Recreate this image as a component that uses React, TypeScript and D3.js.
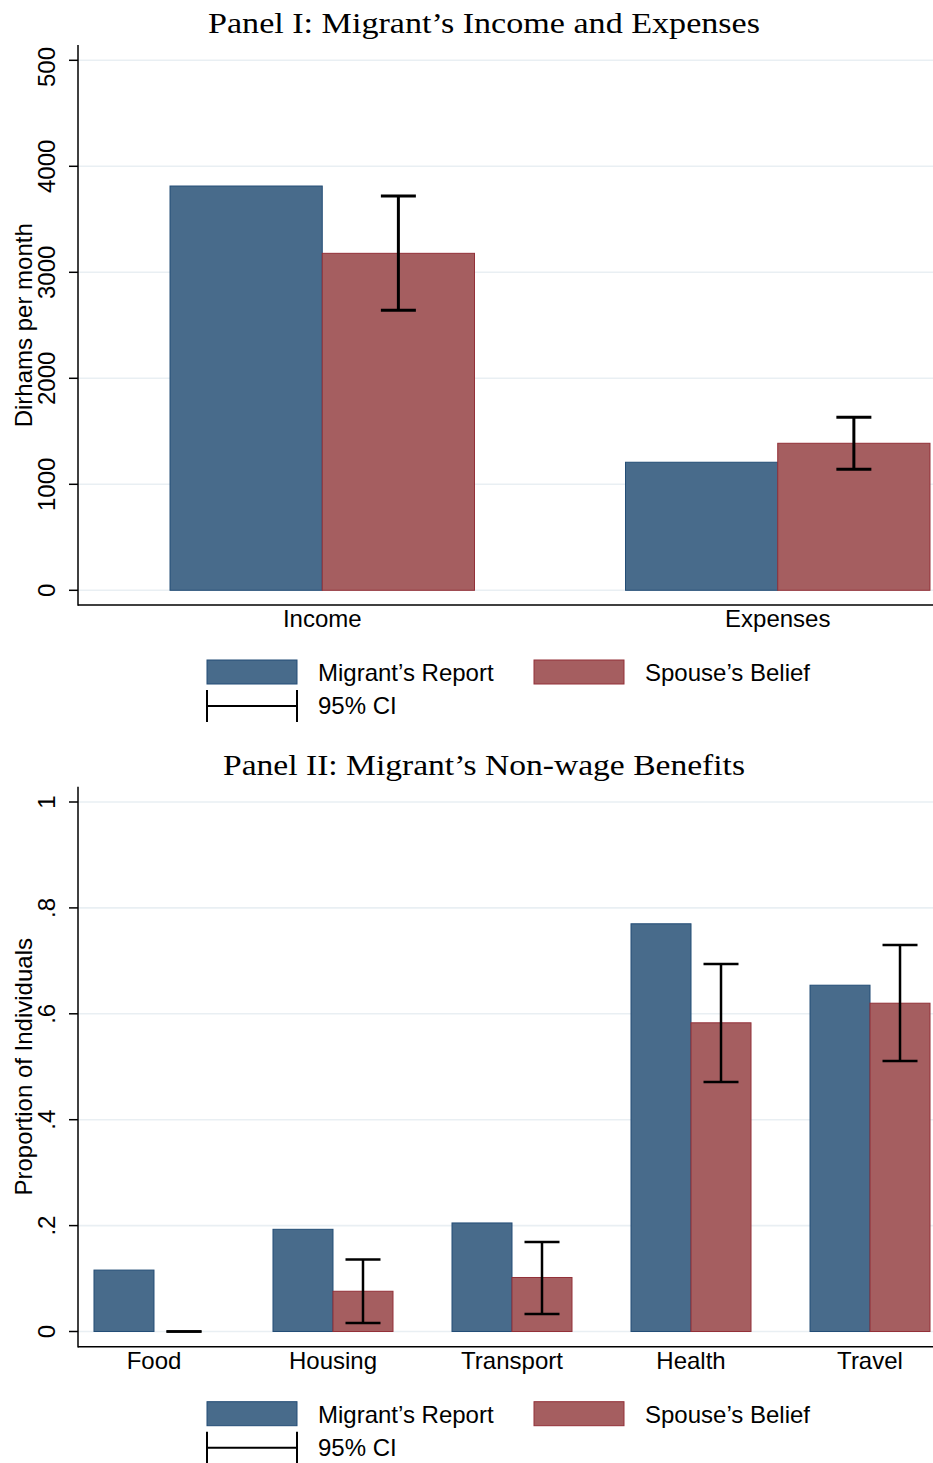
import React from "react";
import * as d3 from "d3";

// ---------- Data ----------
const incomeCats = ["Income", "Expenses"];
const incomeMigrant = [3814, 1208];
const incomeSpouse = [3179, 1387];
const incomeSpouseLo = [2641, 1142];
const incomeSpouseHi = [3720, 1632];
const incomeTicks = [0, 1000, 2000, 3000, 4000, 5000];
const incomeTickLabels = ["0", "1000", "2000", "3000", "4000", "5000"];

const benefitCats = ["Food", "Housing", "Transport", "Health", "Travel"];
const benefitMigrant = [0.116, 0.193, 0.205, 0.77, 0.654];
const benefitSpouse = [0, 0.076, 0.102, 0.583, 0.62];
const benefitSpouseLo = [0, 0.016, 0.033, 0.471, 0.511];
const benefitSpouseHi = [0, 0.136, 0.169, 0.694, 0.73];
const benefitTicks = [0, 0.2, 0.4, 0.6, 0.8, 1];
const benefitTickLabels = ["0", ".2", ".4", ".6", ".8", "1"];

const seriesNames = ["Migrant\u2019s Report", "Spouse\u2019s Belief"];
const ciLabel = "95% CI";
const titles = [
  "Panel I: Migrant\u2019s Income and Expenses",
  "Panel II: Migrant\u2019s Non-wage Benefits",
];

// ---------- Styles ----------
const BLUE = "#486b8b";
const BLUE_EDGE = "#234d76";
const RED = "#a55e60";
const RED_EDGE = "#933038";
const GRID = "#e9eff3";
const SANS = "'Liberation Sans', Arial, Helvetica, sans-serif";
const SERIF = "'Liberation Serif', 'Times New Roman', serif";
const FS = 24;

type PanelProps = {
  id: string;
  title: string;
  titleWidth: number;
  top: number;
  y0: number;
  y1: number;
  axisBottom: number;
  xRangeEnd: number;
  padInner: number;
  padOuter: number;
  cats: string[];
  migrant: number[];
  spouse: number[];
  lo: number[];
  hi: number[];
  ticks: number[];
  tickLabels: string[];
  yLabel: string;
  ciWidth: number;
  clipTop?: number;
};

const AXIS_X = 78;
const RIGHT = 933;

function Panel(p: PanelProps) {
  const y = d3
    .scaleLinear()
    .domain([p.ticks[0], p.ticks[p.ticks.length - 1]])
    .range([p.y0, p.y1]);
  const x = d3
    .scaleBand<string>()
    .domain(p.cats)
    .range([AXIS_X, p.xRangeEnd])
    .paddingInner(p.padInner)
    .paddingOuter(p.padOuter);
  const xs = d3
    .scaleBand<string>()
    .domain(["m", "s"])
    .range([0, x.bandwidth()])
    .padding(0);
  const capHalf = 17.5;
  const legendTop = p.axisBottom + 55;
  const yMid = (p.y0 + p.y1) / 2;

  return (
    <g>
      {p.clipTop !== undefined && (
        <defs>
          <clipPath id={`clip-${p.id}`}>
            <rect x={0} y={p.clipTop} width={AXIS_X} height={2000} />
          </clipPath>
        </defs>
      )}
      <text
        x={484}
        y={p.top - 12}
        textAnchor="middle"
        fontFamily={SERIF}
        fontSize={30}
        textLength={p.titleWidth}
        lengthAdjust="spacingAndGlyphs"
        fill="#000"
      >
        {p.title}
      </text>
      {p.ticks.map((t) => (
        <line
          key={`g${t}`}
          x1={AXIS_X}
          x2={RIGHT}
          y1={y(t)}
          y2={y(t)}
          stroke={GRID}
          strokeWidth={1.6}
        />
      ))}
      {p.cats.map((c, i) => (
        <g key={c}>
          <rect
            x={(x(c) as number) + (xs("m") as number)}
            y={y(p.migrant[i])}
            width={xs.bandwidth()}
            height={Math.max(0, y(0) - y(p.migrant[i]))}
            fill={BLUE}
            stroke={BLUE_EDGE}
            strokeWidth={1}
          />
          {p.spouse[i] > 0 && (
            <rect
              x={(x(c) as number) + (xs("s") as number)}
              y={y(p.spouse[i])}
              width={xs.bandwidth()}
              height={Math.max(0, y(0) - y(p.spouse[i]))}
              fill={RED}
              stroke={RED_EDGE}
              strokeWidth={1}
            />
          )}
        </g>
      ))}
      {p.cats.map((c, i) => {
        const cx = (x(c) as number) + (xs("s") as number) + xs.bandwidth() / 2;
        return (
          <g key={`e${c}`} stroke="#000" strokeWidth={p.ciWidth} fill="none">
            <line x1={cx} x2={cx} y1={y(p.lo[i])} y2={y(p.hi[i])} />
            <line x1={cx - capHalf} x2={cx + capHalf} y1={y(p.lo[i])} y2={y(p.lo[i])} />
            <line x1={cx - capHalf} x2={cx + capHalf} y1={y(p.hi[i])} y2={y(p.hi[i])} />
          </g>
        );
      })}
      <line x1={AXIS_X} x2={AXIS_X} y1={p.top} y2={p.axisBottom + 0.75} stroke="#000" strokeWidth={1.5} />
      <line x1={AXIS_X} x2={RIGHT} y1={p.axisBottom} y2={p.axisBottom} stroke="#000" strokeWidth={1.5} />
      {p.ticks.map((t) => (
        <line key={`t${t}`} x1={AXIS_X - 9} x2={AXIS_X} y1={y(t)} y2={y(t)} stroke="#000" strokeWidth={1.5} />
      ))}
      <g clipPath={p.clipTop !== undefined ? `url(#clip-${p.id})` : undefined}>
        {p.ticks.map((t, i) => (
          <text
            key={`tl${t}`}
            transform={`translate(55,${y(t)}) rotate(-90)`}
            textAnchor="middle"
            fontFamily={SANS}
            fontSize={FS}
            fill="#000"
          >
            {p.tickLabels[i]}
          </text>
        ))}
      </g>
      <text
        transform={`translate(31.5,${yMid}) rotate(-90)`}
        textAnchor="middle"
        fontFamily={SANS}
        fontSize={FS}
        fill="#000"
      >
        {p.yLabel}
      </text>
      {p.cats.map((c) => (
        <text
          key={`xl${c}`}
          x={(x(c) as number) + x.bandwidth() / 2}
          y={p.axisBottom + 22}
          textAnchor="middle"
          fontFamily={SANS}
          fontSize={FS}
          fill="#000"
        >
          {c}
        </text>
      ))}
      <g fontFamily={SANS} fontSize={FS} fill="#000">
        <rect x={207} y={legendTop} width={90} height={24} fill={BLUE} stroke={BLUE_EDGE} strokeWidth={1} />
        <text x={318} y={legendTop + 21}>{seriesNames[0]}</text>
        <rect x={534} y={legendTop} width={90} height={24} fill={RED} stroke={RED_EDGE} strokeWidth={1} />
        <text x={645} y={legendTop + 21}>{seriesNames[1]}</text>
        <g stroke="#000" strokeWidth={2}>
          <line x1={207} x2={297} y1={legendTop + 46} y2={legendTop + 46} />
          <line x1={207} x2={207} y1={legendTop + 30} y2={legendTop + 62} />
          <line x1={297} x2={297} y1={legendTop + 30} y2={legendTop + 62} />
        </g>
        <text x={318} y={legendTop + 54}>{ciLabel}</text>
      </g>
    </g>
  );
}

export default function App() {
  return (
    <svg
      width={933}
      height={1463}
      style={{ position: "absolute", left: 0, top: 0, background: "#fff" }}
    >
      <rect x={0} y={0} width={933} height={1463} fill="#fff" />
      <Panel
        id="p1"
        title={titles[0]}
        titleWidth={552}
        top={45}
        y0={590.3}
        y1={60.3}
        axisBottom={605}
        xRangeEnd={1022}
        padInner={0.3315}
        padOuter={0.202}
        cats={incomeCats}
        migrant={incomeMigrant}
        spouse={incomeSpouse}
        lo={incomeSpouseLo}
        hi={incomeSpouseHi}
        ticks={incomeTicks}
        tickLabels={incomeTickLabels}
        yLabel="Dirhams per month"
        ciWidth={3}
        clipTop={47}
      />
      <Panel
        id="p2"
        title={titles[1]}
        titleWidth={522}
        top={786.7}
        y0={1331.5}
        y1={802}
        axisBottom={1346.7}
        xRangeEnd={946}
        padInner={0.3296}
        padOuter={0.0893}
        cats={benefitCats}
        migrant={benefitMigrant}
        spouse={benefitSpouse}
        lo={benefitSpouseLo}
        hi={benefitSpouseHi}
        ticks={benefitTicks}
        tickLabels={benefitTickLabels}
        yLabel="Proportion of Individuals"
        ciWidth={2.5}
      />
    </svg>
  );
}
